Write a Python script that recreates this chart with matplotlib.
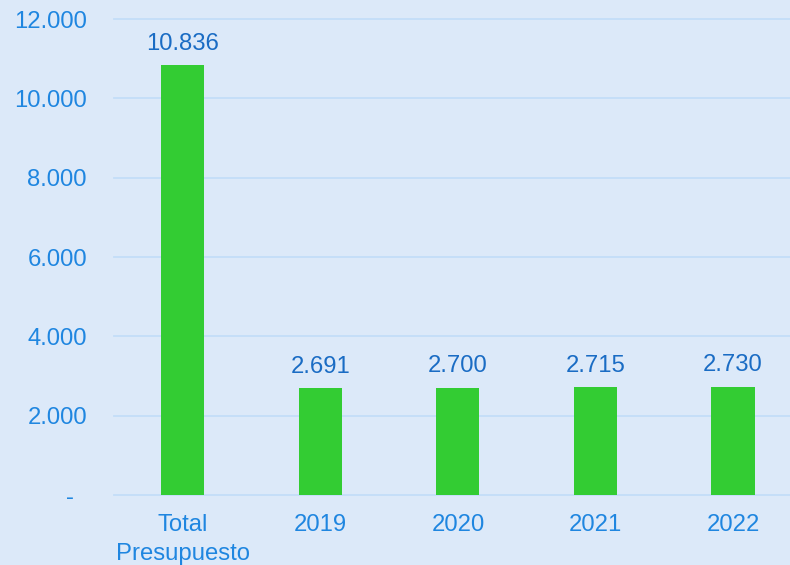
import matplotlib
matplotlib.use("Agg")
import matplotlib.pyplot as plt

categories = ["Total\nPresupuesto", "2019", "2020", "2021", "2022"]
values = [10836, 2691, 2700, 2715, 2730]
yticks = [0, 2000, 4000, 6000, 8000, 10000, 12000]
ytick_labels = ["-  ", "2.000", "4.000", "6.000", "8.000", "10.000", "12.000"]

bg = "#dce9f9"
fs = 17.2
fig = plt.figure(figsize=(7.9, 5.65), dpi=100, facecolor=bg)
W, H = 790, 565
ax = fig.add_axes([114/W, (H-495)/H, (790-114)/W, 476/H], facecolor=bg)

x = list(range(len(categories)))
ax.bar(x, values, width=0.313, color="#33cc33", zorder=3)
ax.set_xlim(-0.5, 4 + (790-733)/137.5)
ax.set_ylim(0, 12000)
ax.set_yticks(yticks)
ax.set_yticklabels(ytick_labels, family=['Liberation Sans'], fontsize=fs, color="#1f86e0")
ax.set_xticks(x)
ax.set_xticklabels(categories, family=['Liberation Sans'], fontsize=fs, color="#1f86e0", linespacing=1.4)
ax.tick_params(axis='y', length=0, pad=19.5)
ax.tick_params(axis='x', length=0, pad=14)
for s in ax.spines.values():
    s.set_visible(False)
ax.grid(axis='y', color="#c3ddf8", linewidth=1.3, zorder=0)
ax.set_axisbelow(True)
for gl in ax.get_ygridlines():
    gl.set_clip_on(False)

for xi, v in zip(x, values):
    ax.annotate(f"{v:,}".replace(",", "."), (xi, v), xytext=(0, 7.5), textcoords="offset points",
                ha="center", va="bottom", fontsize=fs, color="#1a6cc4", family=['Liberation Sans'])

fig.savefig("out.png", dpi=100, facecolor=bg)
